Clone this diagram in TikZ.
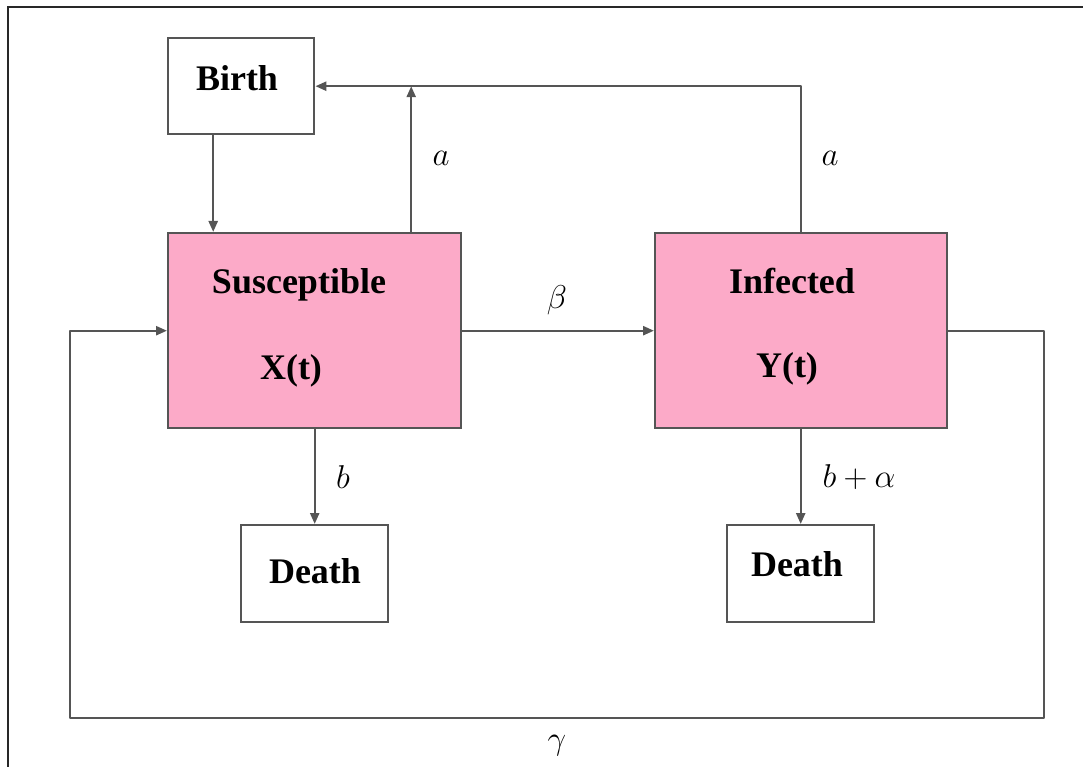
\RequirePackage{fix-cm}
\documentclass[tikz,border=0pt]{standalone}
\usepackage{fontspec}
\setmainfont{Liberation Serif}
\usetikzlibrary{arrows.meta}
\definecolor{boxpink}{RGB}{252,170,200}
\definecolor{edge}{RGB}{85,85,85}
\definecolor{frameline}{RGB}{40,40,40}
\begin{document}
\begin{tikzpicture}[x=1pt,y=-1pt,
  box/.style={draw=edge,line width=2.4pt,inner sep=0pt,anchor=north west},
  title/.style={font=\fontsize{36}{42}\selectfont\bfseries,inner sep=0pt},
  rate/.style={font=\fontsize{33}{38}\selectfont,inner sep=0pt},
  link/.style={draw=edge,line width=2.4pt,line join=round},
  arr/.style={link,-{Triangle[length=11pt,width=9pt]}}]
  \useasboundingbox (0,0) rectangle (1083,767);
  % outer frame (only the left and top edges are on the page)
  \draw[frameline,line width=1.6pt] (8,767) -- (8,7) -- (1083,7);

  % compartments
  \node[box,minimum width=146pt,minimum height=96pt] (birth) at (167,37) {};
  \node[box,fill=boxpink,minimum width=293pt,minimum height=195pt] (sus) at (167,232) {};
  \node[box,fill=boxpink,minimum width=292pt,minimum height=195pt] (inf) at (654,232) {};
  \node[box,minimum width=147pt,minimum height=97pt] (dead1) at (240,524) {};
  \node[box,minimum width=147pt,minimum height=97pt] (dead2) at (726,524) {};

  % box texts
  \node[title] (birthT) at (237,78) {Birth};
  \node[title] (susT) at (299,285) {Susceptible};
  \node[title] (susX) at (291,371) {X(t)};
  \node[title] (infT) at (792,281) {Infected};
  \node[title] (infY) at (787,369) {Y(t)};
  \node[title] (dead1T) at (315,571) {Death};
  \node[title] (dead2T) at (797,564) {Death};

  % flows
  \draw[arr] ([xshift=-28pt]birth.south) -- ([xshift=-28pt]birth.south |- sus.north);
  \draw[arr] ([xshift=96.5pt]sus.north) -- ([xshift=96.5pt]sus.north |- birth.east);
  \draw[arr] (inf.north) -- (inf.north |- birth.east) -- (birth.east);
  \draw[arr] (sus.east) -- (inf.west);
  \draw[arr] (dead1.north |- sus.south) -- (dead1.north);
  \draw[arr] (dead2.north |- inf.south) -- (dead2.north);
  \coordinate (loopR) at (1044,718);
  \coordinate (loopL) at (70,718);
  \draw[arr] (inf.east) -| (loopR) -- (loopL) |- (sus.west);

  % rates
  \node[rate] (aL) at (441,158) {$a$};
  \node[rate] (aR) at (830,158) {$a$};
  \node[rate] (beta) at (557,300) {$\beta$};
  \node[rate] (bS) at (343,477) {$b$};
  \node[rate] (bI) at (859,477) {$b+\alpha$};
  \node[rate] (gam) at (557,746) {$\gamma$};
\end{tikzpicture}
\end{document}
